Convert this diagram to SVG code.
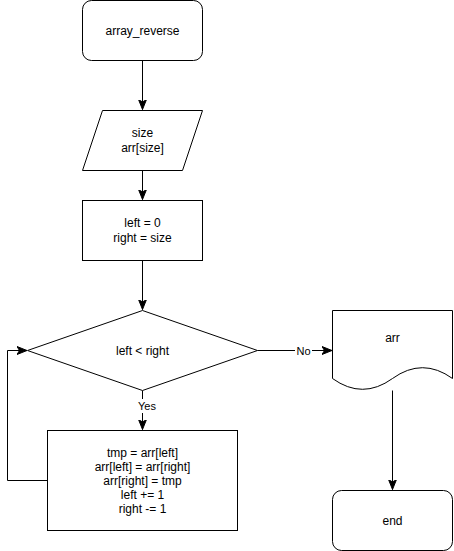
<svg xmlns="http://www.w3.org/2000/svg" width="454" height="551" viewBox="0 0 454 551">
  <style>
    .shape { fill: #ffffff; stroke: #000000; stroke-width: 1; }
    .edge { fill: none; stroke: #000000; stroke-width: 1; }
    text { font-family: "Liberation Sans", Arial, sans-serif; font-size: 12px; fill: #000000; text-anchor: middle; dominant-baseline: central; }
    .lbl { font-size: 11px; }
  </style>
  <defs>
    <marker id="arrow" viewBox="0 0 10 10" refX="10" refY="5" markerWidth="10" markerHeight="10" markerUnits="userSpaceOnUse" orient="auto">
      <path d="M0,1 L10,5 L0,9 L2.5,5 Z" fill="#000000" stroke="#000000" stroke-width="1"/>
    </marker>
  </defs>
  <rect width="454" height="551" fill="#ffffff"/>

  <g id="connectors">
    <path class="edge" d="M142.5,60.5 V109.5" marker-end="url(#arrow)"/>
    <path class="edge" d="M142.5,170.5 V199.5" marker-end="url(#arrow)"/>
    <path class="edge" d="M142.5,260.5 V309.5" marker-end="url(#arrow)"/>
    <path class="edge" d="M142.5,390.5 V429.5" marker-end="url(#arrow)"/>
    <path class="edge" d="M47.5,480.5 H7.5 V350.5 H27" marker-end="url(#arrow)"/>
    <path class="edge" d="M257.5,350.5 H332" marker-end="url(#arrow)"/>
    <path class="edge" d="M392.5,390.5 V489.5" marker-end="url(#arrow)"/>
    <rect x="136" y="399" width="22" height="14" fill="#ffffff"/>
    <text class="lbl" x="147" y="406">Yes</text>
    <rect x="295" y="344" width="17" height="14" fill="#ffffff"/>
    <text class="lbl" x="303.5" y="351">No</text>
  </g>

  <g id="start">
    <rect class="shape" x="82.5" y="0.5" width="120" height="60" rx="9" ry="9"/>
    <text x="142.5" y="30.5">array_reverse</text>
  </g>

  <g id="input">
    <path class="shape" d="M102.5,110.5 H202.5 L182.5,170.5 H82.5 Z"/>
    <text x="142.5" y="133">size</text>
    <text x="142.5" y="148">arr[size]</text>
  </g>

  <g id="init">
    <rect class="shape" x="82.5" y="200.5" width="120" height="60"/>
    <text x="142.5" y="223">left = 0</text>
    <text x="142.5" y="238">right = size</text>
  </g>

  <g id="condition">
    <path class="shape" d="M142.5,310.5 L257.5,350.5 L142.5,390.5 L27.5,350.5 Z"/>
    <text x="142.5" y="350.5">left &lt; right</text>
  </g>

  <g id="swap">
    <rect class="shape" x="47.5" y="430.5" width="190" height="100"/>
    <text x="142.5" y="452.5">tmp = arr[left]</text>
    <text x="142.5" y="466.5">arr[left] = arr[right]</text>
    <text x="142.5" y="480.5">arr[right] = tmp</text>
    <text x="142.5" y="494.5">left += 1</text>
    <text x="142.5" y="508.5">right -= 1</text>
  </g>

  <g id="output">
    <path class="shape" d="M332.5,310.5 H452.5 V378.5 Q422.5,356.9 392.5,378.5 Q362.5,400.1 332.5,378.5 Z"/>
    <text x="392.5" y="338">arr</text>
  </g>

  <g id="end">
    <rect class="shape" x="332.5" y="490.5" width="120" height="60" rx="9" ry="9"/>
    <text x="392.5" y="520.5">end</text>
  </g>
</svg>
